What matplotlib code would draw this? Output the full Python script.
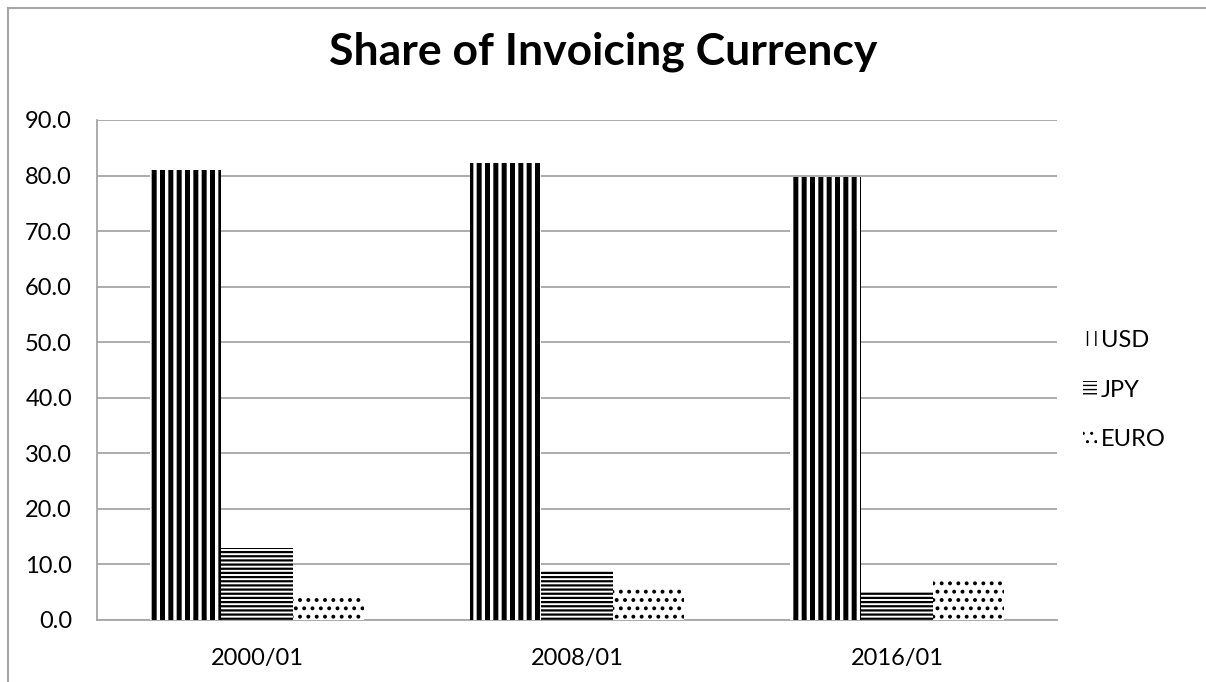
import matplotlib
matplotlib.use("Agg")
import matplotlib.pyplot as plt
import numpy as np
from matplotlib.lines import Line2D

categories = ["2000/01", "2008/01", "2016/01"]
series_names = ["USD", "JPY", "EURO"]
usd = [81.0, 82.3, 79.7]
jpy = [12.9, 9.0, 5.0]
euro = [3.9, 5.9, 7.6]
yticks = [0, 10, 20, 30, 40, 50, 60, 70, 80, 90]

plt.rcParams['font.family'] = ['Lato', 'DejaVu Sans']

W, H = 1206, 682
fig = plt.figure(figsize=(W / 100, H / 100), dpi=100)
ax = fig.add_axes([97 / W, 1 - 620 / H, (1057 - 97) / W, (620 - 120) / H])

x = np.arange(len(categories))
bw = 0.222
styles = [("||", 3.6), ("----", 1.6), ("..", 1.6)]
for i, (vals, (hatch, hlw)) in enumerate(zip([usd, jpy, euro], styles)):
    with plt.rc_context({'hatch.linewidth': hlw, 'hatch.color': 'black'}):
        bars = ax.bar(x + (i - 1) * bw, vals, width=bw, color='white',
                      edgecolor='black', linewidth=0, hatch=hatch,
                      label=series_names[i], zorder=3)
        for b in bars:
            if hasattr(b, 'set_hatch_linewidth'):
                b.set_hatch_linewidth(hlw)

ax.set_ylim(0, 90)
ax.set_xlim(-0.5, 2.5)
ax.set_yticks(yticks)
ax.set_yticklabels([f"{v:.1f}" for v in yticks])
ax.set_xticks(x)
ax.set_xticklabels(categories)
ax.tick_params(axis='both', length=0, labelsize=17, colors='black')
ax.tick_params(axis='y', pad=18)
ax.tick_params(axis='x', pad=20)
ax.grid(axis='y', color='#a6a6a6', linewidth=1.3, zorder=0)
ax.set_axisbelow(True)
for s in ['top', 'right']:
    ax.spines[s].set_visible(False)
for s in ['left', 'bottom']:
    ax.spines[s].set_color('#a6a6a6')
    ax.spines[s].set_linewidth(1.3)

fig.text(0.5, 1 - 52 / H, "Share of Invoicing Currency", ha='center', va='center',
         fontsize=32, fontweight='bold')

leg = ax.legend(loc='center left', bbox_to_anchor=(1062 / W, 1 - 390 / H),
                bbox_transform=fig.transFigure, frameon=False, fontsize=17,
                handlelength=0.6, handleheight=0.6, handletextpad=0.15,
                labelspacing=1.2)

# outer chart border (left and top visible)
fig.add_artist(Line2D([8 / W, 8 / W], [0, 1 - 8 / H], transform=fig.transFigure,
                      color='#a6a6a6', linewidth=1.5))
fig.add_artist(Line2D([8 / W, 1], [1 - 8 / H, 1 - 8 / H], transform=fig.transFigure,
                      color='#a6a6a6', linewidth=1.5))

fig.savefig("out.png", dpi=100)
